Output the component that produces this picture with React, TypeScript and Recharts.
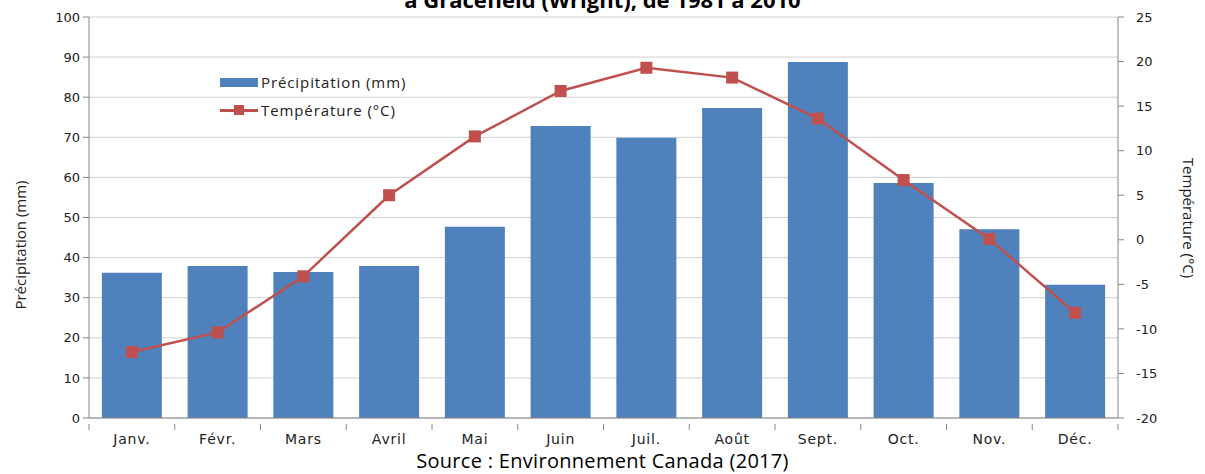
import {
  ComposedChart,
  Bar,
  Line,
  XAxis,
  YAxis,
  CartesianGrid,
} from "recharts";

const months = ["Janv.", "Févr.", "Mars", "Avril", "Mai", "Juin", "Juil.", "Août", "Sept.", "Oct.", "Nov.", "Déc."];
const precipitation = [36.2, 37.9, 36.4, 37.9, 47.7, 72.8, 69.9, 77.3, 88.8, 58.6, 47.1, 33.2];
const temperature = [-12.6, -10.4, -4.1, 5.0, 11.6, 16.7, 19.3, 18.2, 13.6, 6.7, 0.1, -8.2];
const precipTicks = [0, 10, 20, 30, 40, 50, 60, 70, 80, 90, 100];
const tempTicks = [-20, -15, -10, -5, 0, 5, 10, 15, 20, 25];

const data = months.map((m, i) => ({
  month: m,
  precip: precipitation[i],
  temp: temperature[i],
}));

const W = 1205;
const H = 474;
const LEFT_W = 89;
const RIGHT_W = 60;
const RIGHT_M = 27;
const BAND = (W - LEFT_W - RIGHT_W - RIGHT_M) / months.length;

const BLUE = "#4F81BD";
const RED = "#C0504D";
const AXIS = "#868686";
const tickFont = { fill: "#222", fontSize: 13, fontFamily: "DejaVu Sans" };
const labelStyle = { fontFamily: "Open Sans", fontSize: 15, color: "#222", whiteSpace: "nowrap" as const };

// month label, plus Excel-style tick marks between the categories
const MonthTick = (props: any) => {
  const { x, y, payload, index } = props;
  const top = y - 14;
  return (
    <g>
      <line x1={x - BAND / 2} x2={x - BAND / 2} y1={top} y2={top + 6} stroke={AXIS} />
      {index === months.length - 1 && (
        <line x1={x + BAND / 2} x2={x + BAND / 2} y1={top} y2={top + 6} stroke={AXIS} />
      )}
      <text x={x} y={y} dy={6} textAnchor="middle" fill="#222" fontSize={14} letterSpacing={0.8} fontFamily="DejaVu Sans">
        {payload.value}
      </text>
    </g>
  );
};

// legend drawn by hand to mimic the Excel look
const LegendBox = () => (
  <div style={{ position: "absolute", left: 220, top: 68, fontFamily: "Open Sans", fontSize: 15, letterSpacing: 0.9, color: "#222", lineHeight: "28px" }}>
    <div style={{ display: "flex", alignItems: "center" }}>
      <span style={{ display: "inline-block", width: 38, height: 9, background: BLUE, marginRight: 3 }} />
      Précipitation (mm)
    </div>
    <div style={{ display: "flex", alignItems: "center" }}>
      <span style={{ position: "relative", display: "inline-block", width: 38, height: 10, marginRight: 3 }}>
        <span style={{ position: "absolute", left: 0, top: 4, width: 38, height: 3, background: RED }} />
        <span style={{ position: "absolute", left: 14, top: 0, width: 10, height: 10, background: RED }} />
      </span>
      Température (°C)
    </div>
  </div>
);

export default function App() {
  return (
    <div style={{ position: "absolute", left: 0, top: 0, width: W, height: H, background: "#fff", overflow: "hidden" }}>
      <ComposedChart
        width={W}
        height={H}
        data={data}
        margin={{ top: 17, right: RIGHT_M, left: 0, bottom: 0 }}
        barCategoryGap="15%"
      >
        <CartesianGrid vertical={false} stroke="#D0D0D0" yAxisId="left" />
        <XAxis
          dataKey="month"
          tick={<MonthTick />}
          tickLine={false}
          axisLine={{ stroke: AXIS }}
          tickMargin={14}
          height={56}
          interval={0}
        />
        <YAxis
          yAxisId="left"
          domain={[0, 100]}
          ticks={precipTicks}
          width={LEFT_W}
          tick={tickFont}
          tickLine={{ stroke: AXIS }}
          tickSize={6}
          tickMargin={3}
          axisLine={{ stroke: AXIS }}
        />
        <YAxis
          yAxisId="right"
          orientation="right"
          domain={[-20, 25]}
          ticks={tempTicks}
          width={RIGHT_W}
          tick={{ ...tickFont, textAnchor: "start" }}
          tickLine={{ stroke: AXIS }}
          tickSize={6}
          tickMargin={12}
          axisLine={{ stroke: AXIS }}
        />
        <Bar
          yAxisId="left"
          dataKey="precip"
          name="Précipitation (mm)"
          fill={BLUE}
          isAnimationActive={false}
        />
        <Line
          yAxisId="right"
          dataKey="temp"
          name="Température (°C)"
          type="linear"
          stroke={RED}
          strokeWidth={2.5}
          dot={(p: any) => (
            <rect key={p.index} x={p.cx - 6} y={p.cy - 6} width={12} height={12} fill={RED} />
          )}
          activeDot={false}
          isAnimationActive={false}
        />
      </ComposedChart>
      <LegendBox />
      {/* title is cropped in the reference, only its lower half shows */}
      <div
        style={{
          position: "absolute",
          left: 0,
          width: W,
          top: -16,
          textAlign: "center",
          fontFamily: "Open Sans",
          fontWeight: 700,
          fontSize: 22,
          color: "#000",
        }}
      >
        à Gracefield (Wright), de 1981 à 2010
      </div>
      <div style={{ ...labelStyle, position: "absolute", left: 20, top: 245, transform: "translate(-50%, -50%) rotate(-90deg)" }}>
        Précipitation (mm)
      </div>
      <div style={{ ...labelStyle, position: "absolute", left: 1189, top: 218, transform: "translate(-50%, -50%) rotate(90deg)" }}>
        Température (°C)
      </div>
      <div
        style={{
          position: "absolute",
          left: 0,
          width: W,
          top: 450,
          textAlign: "center",
          fontFamily: "Open Sans",
          fontSize: 20,
          lineHeight: "22px",
          letterSpacing: 0.3,
          color: "#000",
        }}
      >
        Source : Environnement Canada (2017)
      </div>
    </div>
  );
}
